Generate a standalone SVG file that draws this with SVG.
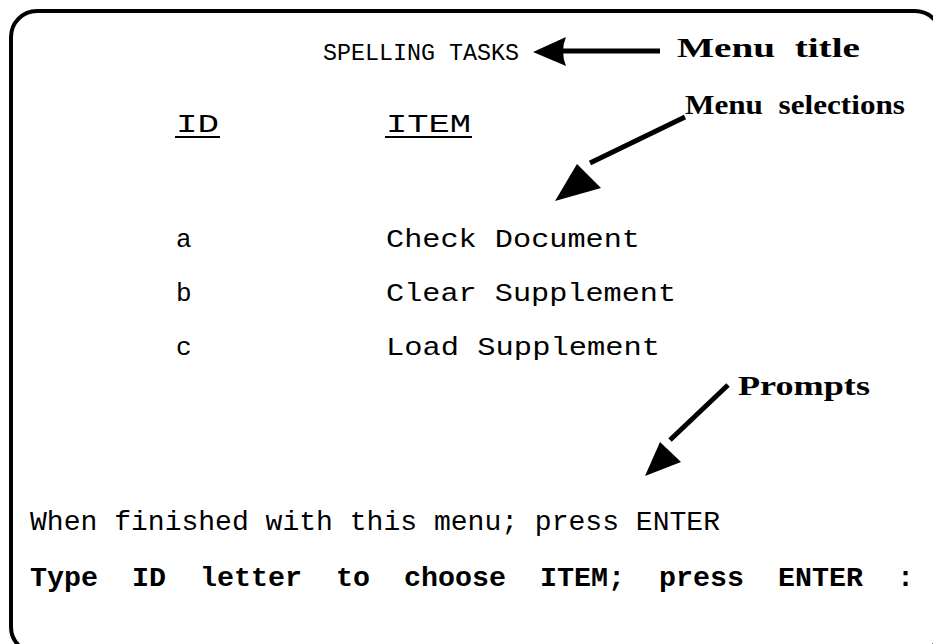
<svg xmlns="http://www.w3.org/2000/svg" width="933" height="644" viewBox="0 0 933 644">
  <style>
    .mono { font-family: "Liberation Mono", "Courier New", monospace; fill: #000; }
    .label { font-family: "Liberation Serif", "Times New Roman", serif; font-weight: bold; fill: #000; }
    .frame { fill: #fff; stroke: #000; stroke-width: 4; }
    .shaft { stroke: #000; stroke-width: 5; fill: none; }
    .head { fill: #000; }
    .rule { stroke: #000; stroke-width: 2; }
  </style>
  <rect width="933" height="644" fill="#fff"/>
  <!-- screen outline -->
  <rect class="frame" x="11" y="11" width="930" height="642" rx="26" ry="26"/>

  <g id="menu-title">
    <text class="mono" x="323" y="60" font-size="23" textLength="196" lengthAdjust="spacingAndGlyphs">SPELLING TASKS</text>
  </g>
  <g id="column-headers">
    <text class="mono" x="176" y="132" font-size="25" textLength="43" lengthAdjust="spacingAndGlyphs">ID</text>
    <line class="rule" x1="175" y1="137" x2="220" y2="137"/>
    <text class="mono" x="386" y="132" font-size="25" textLength="85" lengthAdjust="spacingAndGlyphs">ITEM</text>
    <line class="rule" x1="385" y1="137" x2="472" y2="137"/>
  </g>
  <g id="item-a">
    <text class="mono" x="176" y="247" font-size="26">a</text>
    <text class="mono" x="386" y="247" font-size="26" textLength="254" lengthAdjust="spacingAndGlyphs">Check Document</text>
  </g>
  <g id="item-b">
    <text class="mono" x="176" y="301" font-size="26">b</text>
    <text class="mono" x="386" y="301" font-size="26" textLength="290" lengthAdjust="spacingAndGlyphs">Clear Supplement</text>
  </g>
  <g id="item-c">
    <text class="mono" x="176" y="355" font-size="26">c</text>
    <text class="mono" x="386" y="355" font-size="26" textLength="274" lengthAdjust="spacingAndGlyphs">Load Supplement</text>
  </g>
  <g id="prompts">
    <text class="mono" x="30" y="530" font-size="28" textLength="690" lengthAdjust="spacingAndGlyphs">When finished with this menu; press ENTER</text>
    <text class="mono" x="30" y="586" font-size="28.3" font-weight="bold" xml:space="preserve" textLength="884" lengthAdjust="spacingAndGlyphs">Type  ID  letter  to  choose  ITEM;  press  ENTER  :</text>
  </g>

  <g id="label-menu-title">
    <text class="label" x="677" y="57" font-size="27" xml:space="preserve" textLength="183" lengthAdjust="spacingAndGlyphs">Menu  title</text>
  </g>
  <g id="label-menu-selections">
    <text class="label" x="685" y="114" font-size="27" xml:space="preserve" textLength="220" lengthAdjust="spacingAndGlyphs">Menu  selections</text>
  </g>
  <g id="label-prompts">
    <text class="label" x="738" y="395" font-size="27" textLength="132" lengthAdjust="spacingAndGlyphs">Prompts</text>
  </g>

  <g id="connectors">
    <!-- to menu title -->
    <line class="shaft" x1="660" y1="51" x2="560" y2="51"/>
    <path class="head" d="M533,52 L566,37 Q560,51 566,66 Z"/>
    <!-- to menu selections -->
    <line class="shaft" x1="685" y1="117" x2="590" y2="163"/>
    <path class="head" d="M555,201 L577,164 L601,188 Z"/>
    <!-- to prompts -->
    <line class="shaft" x1="728" y1="385" x2="670" y2="440"/>
    <path class="head" d="M645,476 L660,442 L681,462 Z"/>
  </g>
</svg>
